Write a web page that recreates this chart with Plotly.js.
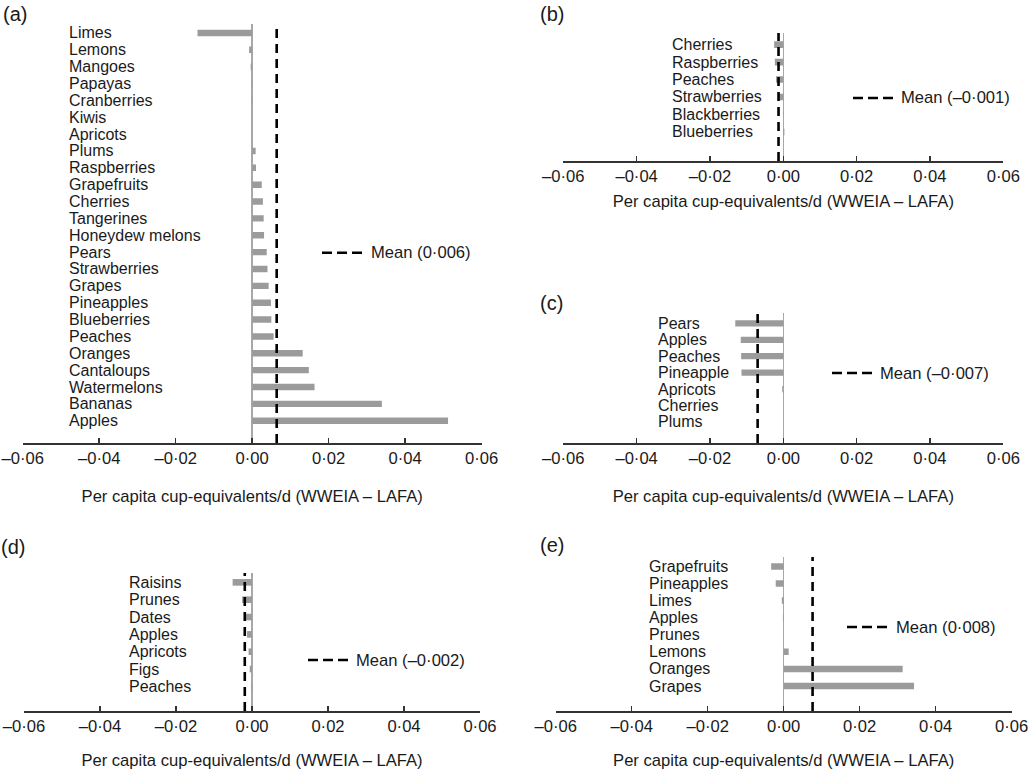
<!DOCTYPE html>
<html>
<head>
<meta charset="utf-8">
<script src="https://cdn.plot.ly/plotly-3.0.1.min.js"></script>
<style>
  body { margin: 0; background: #fff; }
  #chart { width: 1028px; height: 770px; }
</style>
</head>
<body>
<div id="chart"></div>
<script>
// data (WWEIA - LAFA, cup-equivalents/d)
const catsA = ['Limes', 'Lemons', 'Mangoes', 'Papayas', 'Cranberries', 'Kiwis', 'Apricots', 'Plums',
  'Raspberries', 'Grapefruits', 'Cherries', 'Tangerines', 'Honeydew melons', 'Pears', 'Strawberries',
  'Grapes', 'Pineapples', 'Blueberries', 'Peaches', 'Oranges', 'Cantaloups', 'Watermelons', 'Bananas', 'Apples'];
const valsA = [-0.0143, -0.0008, -0.0004, -0.0002, -0.0002, 0, 0, 0.0009,
  0.001, 0.0025, 0.0028, 0.003, 0.0031, 0.0038, 0.004,
  0.0043, 0.0049, 0.005, 0.0056, 0.0132, 0.0148, 0.0163, 0.0339, 0.0512];

const catsB = ['Cherries', 'Raspberries', 'Peaches', 'Strawberries', 'Blackberries', 'Blueberries'];
const valsB = [-0.0025, -0.0023, -0.002, -0.0012, -0.0001, 0.0003];

const catsC = ['Pears', 'Apples', 'Peaches', 'Pineapple', 'Apricots', 'Cherries', 'Plums'];
const valsC = [-0.0131, -0.0116, -0.0115, -0.0114, -0.0003, 0, 0];

const catsD = ['Raisins', 'Prunes', 'Dates', 'Apples', 'Apricots', 'Figs', 'Peaches'];
const valsD = [-0.0051, -0.0026, -0.0016, -0.0013, -0.0009, -0.0006, -0.0002];

const catsE = ['Grapefruits', 'Pineapples', 'Limes', 'Apples', 'Prunes', 'Lemons', 'Oranges', 'Grapes'];
const valsE = [-0.0033, -0.0021, -0.0005, -0.0002, 0, 0.0013, 0.0313, 0.0343];

const meanVals = [0.0064, -0.0013, -0.007, -0.0019, 0.0076];
const meanLabels = ['Mean (0·006)', 'Mean (–0·001)', 'Mean (–0·007)', 'Mean (–0·002)', 'Mean (0·008)'];
const panelLetters = ['(a)', '(b)', '(c)', '(d)', '(e)'];

const tickVals = [-0.06, -0.04, -0.02, 0, 0.02, 0.04, 0.06];
const tickText = ['–0·06', '–0·04', '–0·02', '0·00', '0·02', '0·04', '0·06'];
const xTitle = 'Per capita cup-equivalents/d (WWEIA – LAFA)';

// page geometry (px)
const W = 1028, H = 770;
const FONT = 'Liberation Sans, Arial, Helvetica, sans-serif';
const INK = '#1a1a1a';
const FS = 16.6;
const FS_CAT = 16;

// left/right of axis, top/bottom of plot, gaps in category units, label x, legend key, letter pos
const panels = [
  {cats: catsA, vals: valsA, x0: 22.7, x1: 481.7, top: 24, bot: 443, gTop: 0.53, gBot: 1.32,
    labX: 68, key: [322, 362, 369, 252.7], letter: [1, 14], standoff: 23},
  {cats: catsB, vals: valsB, x0: 563.3, x1: 1003.3, top: 33, bot: 161, gTop: 0.67, gBot: 1.67,
    labX: 671, key: [853, 893, 899, 98], letter: [538, 14], standoff: 10},
  {cats: catsC, vals: valsC, x0: 563.3, x1: 1003.3, top: 313, bot: 443, gTop: 0.63, gBot: 1.28,
    labX: 657, key: [832, 872, 878, 373], letter: [538, 303], standoff: 23},
  {cats: catsD, vals: valsD, x0: 24, x1: 480, top: 573, bot: 711, gTop: 0.54, gBot: 1.42,
    labX: 128, key: [308, 348, 354, 660], letter: [-1, 547], standoff: 21},
  {cats: catsE, vals: valsE, x0: 555.7, x1: 1011.7, top: 557, bot: 711, gTop: 0.55, gBot: 1.46,
    labX: 648, key: [847, 887, 894, 627], letter: [538, 545], standoff: 21}
];

const traces = [];
const shapes = [];
const annotations = [];
const layout = {
  width: W, height: H,
  margin: {l: 0, r: 0, t: 0, b: 0},
  paper_bgcolor: '#fff', plot_bgcolor: 'rgba(0,0,0,0)',
  showlegend: false,
  font: {family: FONT, size: FS, color: INK},
  bargap: 0.62
};

panels.forEach((p, i) => {
  const sfx = i === 0 ? '' : String(i + 1);
  const xa = 'x' + sfx, ya = 'y' + sfx;
  const n = p.cats.length;

  traces.push({
    type: 'bar', orientation: 'h',
    x: p.vals, y: p.cats,
    xaxis: xa, yaxis: ya,
    marker: {color: '#9b9b9b', line: {width: 0}},
    hoverinfo: 'x+y'
  });

  layout['xaxis' + sfx] = {
    domain: [p.x0 / W, p.x1 / W],
    anchor: ya,
    range: [-0.06, 0.06],
    tickvals: tickVals, ticktext: tickText,
    ticks: 'inside', ticklen: 5, tickwidth: 1.5, tickcolor: '#333',
    ticklabeloverflow: 'allow',
    showline: true, linecolor: '#333', linewidth: 1.5,
    showgrid: false,
    zeroline: true, zerolinecolor: '#a8a8a8', zerolinewidth: 1.5,
    tickfont: {size: FS, color: INK},
    title: {text: xTitle, font: {size: FS, color: INK}, standoff: p.standoff},
    fixedrange: true
  };
  layout['yaxis' + sfx] = {
    domain: [1 - p.bot / H, 1 - p.top / H],
    anchor: xa,
    type: 'category',
    categoryorder: 'array', categoryarray: p.cats,
    range: [n - 1 + p.gBot, -p.gTop],
    showticklabels: false, showgrid: false, zeroline: false, showline: false, ticks: '',
    fixedrange: true
  };

  // category names, left aligned like the original
  p.cats.forEach(c => {
    annotations.push({
      xref: 'paper', yref: ya, x: p.labX / W, y: c,
      xanchor: 'left', yanchor: 'middle', showarrow: false, borderpad: 0,
      text: c, font: {size: FS_CAT, color: INK}
    });
  });

  // mean line
  shapes.push({
    type: 'line', xref: xa, yref: ya + ' domain',
    x0: meanVals[i], x1: meanVals[i], y0: 0, y1: 1,
    line: {color: '#000', width: 2.6, dash: '9px,6px'}, layer: 'above'
  });

  // legend key + text
  const k = p.key;
  shapes.push({
    type: 'line', xref: 'paper', yref: 'paper',
    x0: k[0] / W, x1: k[1] / W, y0: 1 - k[3] / H, y1: 1 - k[3] / H,
    line: {color: '#000', width: 2.6, dash: '10px,5px'}
  });
  annotations.push({
    xref: 'paper', yref: 'paper', x: k[2] / W, y: 1 - k[3] / H,
    xanchor: 'left', yanchor: 'middle', showarrow: false,
    text: meanLabels[i], font: {size: FS, color: INK}
  });

  // panel letter
  annotations.push({
    xref: 'paper', yref: 'paper', x: p.letter[0] / W, y: 1 - p.letter[1] / H,
    xanchor: 'left', yanchor: 'middle', showarrow: false,
    text: panelLetters[i], font: {size: 20, color: INK}
  });
});

layout.shapes = shapes;
layout.annotations = annotations;

Plotly.newPlot('chart', traces, layout, {displayModeBar: false, staticPlot: true});
</script>
</body>
</html>
